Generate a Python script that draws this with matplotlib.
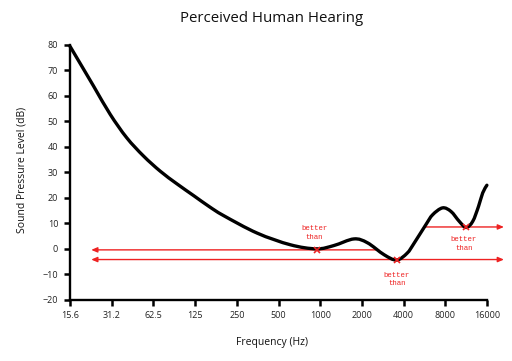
import matplotlib
matplotlib.use("Agg")
import matplotlib.pyplot as plt
import numpy as np
from matplotlib.path import Path
from matplotlib.patches import PathPatch

# Data
freq = [15.6, 23, 30.4, 40, 52.9, 70, 92, 122, 157, 200, 350, 609, 940, 1254,
        1750, 2190, 2890, 3560, 4240, 4760, 5790, 6480, 7640, 8790, 10090,
        11300, 12620, 13900, 14900, 15970]
spl = [79.5, 64.0, 52.8, 43.6, 36.4, 30.4, 25.5, 20.8, 16.6, 13.0, 6.1, 1.5,
       -0.1, 1.2, 3.8, 2.3, -2.4, -4.5, -1.8, 2.1, 9.4, 13.3, 16.0, 14.6, 10.7,
       8.3, 10.7, 16.6, 21.9, 24.9]

xticks = [15.6, 31.2, 62.5, 125, 250, 500, 1000, 2000, 4000, 8000, 16000]
xticklabels = ["15.6", "31.2", "62.5", "125", "250", "500", "1000", "2000",
               "4000", "8000", "16000"]
yticks = [-20, -10, 0, 10, 20, 30, 40, 50, 60, 70, 80]

# reference lines: (x_start, x_end, level)
ref_lines = [
    (2640, 22.2, -0.5),
    (3560, 22.2, -4.3),
    (3560, 21200, -4.3),
    (5650, 21200, 8.5),
]
markers_x = [950, 3560, 11200]
markers_y = [-0.5, -4.3, 8.4]
label_x = [910, 3560, 10900]
label_y = [6.2, -12.2, 1.9]
label_text = "better\nthan"

fig = plt.figure(figsize=(5.12, 3.61), dpi=100)
ax = fig.add_axes([70/512, 1-299.5/361, (487-70)/512, (299.5-45)/361])
ax.set_xscale("log", base=2)
ax.set_xlim(15.6, 16000)
ax.set_ylim(-20, 80)

red = "#ee2222"
for xs, xe, lvl in ref_lines:
    ax.annotate("", xy=(xe, lvl), xytext=(xs, lvl), annotation_clip=False,
                arrowprops=dict(arrowstyle="-|>,head_length=0.35,head_width=0.15",
                                color=red, lw=1.0, shrinkA=0, shrinkB=0))

# smooth curve through the read points (Catmull-Rom -> cubic Bezier in log-frequency space)
lx = np.log2(np.array(freq, dtype=float))
ly = np.array(spl, dtype=float)
P = np.column_stack([lx, ly])
verts = [P[0]]
codes = [Path.MOVETO]
n = len(P)
for i in range(n - 1):
    p0 = P[i - 1] if i > 0 else P[i]
    p1 = P[i]
    p2 = P[i + 1]
    p3 = P[i + 2] if i + 2 < n else P[i + 1]
    c1 = p1 + (p2 - p0) / 6.0
    c2 = p2 - (p3 - p1) / 6.0
    verts += [c1, c2, p2]
    codes += [Path.CURVE4] * 3
verts = np.array(verts)
verts[:, 0] = 2.0 ** verts[:, 0]
patch = PathPatch(Path(verts, codes), fill=False, edgecolor="black", lw=2.4,
                  capstyle="round", joinstyle="round", zorder=3, clip_on=False)
ax.add_patch(patch)

ax.plot(markers_x, markers_y, linestyle="none", marker="x", color=red,
        markersize=5, markeredgewidth=1.2, zorder=4, clip_on=False)

for tx, ty in zip(label_x, label_y):
    ax.text(tx, ty, label_text, color=red, fontsize=5.3, family="Liberation Mono",
            ha="center", va="center", linespacing=1.3)

ax.set_xticks(xticks)
ax.set_xticklabels(xticklabels)
ax.minorticks_off()
ax.set_yticks(yticks)
for s in ["top", "right"]:
    ax.spines[s].set_visible(False)
for s in ["left", "bottom"]:
    ax.spines[s].set_linewidth(1.7)
ax.tick_params(axis="both", length=4.5, width=1.8, labelsize=6.5, colors="black",
               labelcolor="#222222", pad=4)
for lab in ax.get_xticklabels() + ax.get_yticklabels():
    lab.set_family("Open Sans")

fig.text(272/512, 1-19/361, "Perceived Human Hearing", ha="center", va="center",
         fontsize=10.8, family="Open Sans", color="#111111")
fig.text(22/512, 1-170/361, "Sound Pressure Level (dB)", rotation=90, ha="center",
         va="center", fontsize=7.5, family="Open Sans", color="#111111")
fig.text(272/512, 1-342/361, "Frequency (Hz)", ha="center", va="center",
         fontsize=7.5, family="Open Sans", color="#111111")

fig.savefig("out.png", dpi=100)
